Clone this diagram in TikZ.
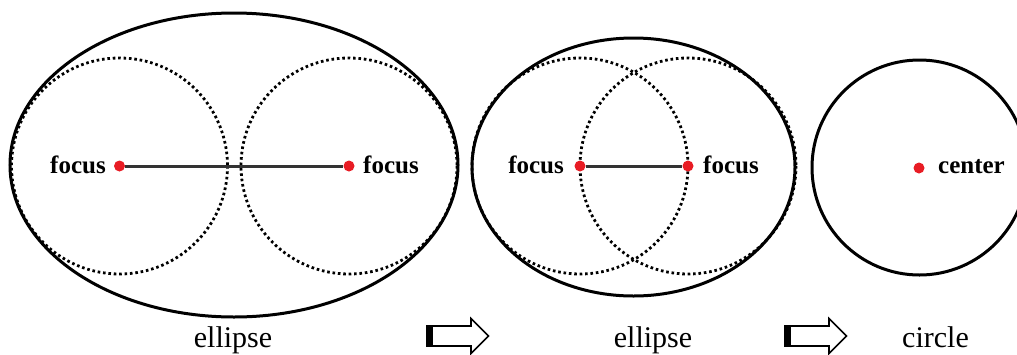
\documentclass[tikz,border=0pt]{standalone}
\usepackage{fontspec}
\setmainfont{Liberation Serif}
\definecolor{fred}{RGB}{232,28,36}
\begin{document}
\begin{tikzpicture}[x=1pt,y=-1pt,
  outline/.style={line width=3pt},
  dots/.style={line width=2.8pt, dash pattern=on 2.6pt off 2.8pt},
  fdot/.style={circle, fill=fred, inner sep=0pt, minimum size=11pt},
  link/.style={line width=3pt, draw=black!80},
  lbl/.style={font=\bfseries\fontsize{25}{25}\selectfont, inner sep=0pt},
  caption/.style={font=\fontsize{30}{30}\selectfont, inner sep=0pt, anchor=base},
  blockarrow/.style={line width=1.6pt, line join=miter}]
\useasboundingbox (0,0) rectangle (1017,354);

% left ellipse
\draw[outline] (234,165) ellipse [x radius=224, y radius=152];
\draw[dots] (119.5,166) circle [radius=108];
\draw[dots] (349,166) circle [radius=108];
\node[fdot] (f1) at (119.5,166) {};
\node[fdot] (f2) at (349,166) {};
\draw[link] (f1) -- (f2);
\node[lbl, anchor=base east] (t1) at (106,173) {focus};
\node[lbl, anchor=base west] (t2) at (363,173) {focus};
\node[caption] (c1) at (233,347) {ellipse};

% middle ellipse
\draw[outline] (633.5,167) ellipse [x radius=161.5, y radius=129];
\draw[dots] (580,166) circle [radius=108];
\draw[dots] (688,166) circle [radius=108];
\node[fdot] (f3) at (580,166) {};
\node[fdot] (f4) at (688,166) {};
\draw[link] (f3) -- (f4);
\node[lbl, anchor=base east] (t3) at (564,173) {focus};
\node[lbl, anchor=base west] (t4) at (703,173) {focus};
\node[caption] (c2) at (653,347) {ellipse};

% circle
\draw[outline] (919.5,167.5) circle [radius=107.5];
\node[fdot] (f5) at (919,168) {};
\node[lbl, anchor=base west] (t5) at (938,173) {center};
\node[caption] (c3) at (935.5,347) {circle};

% block arrows
\draw[blockarrow] (427,326) -- (471,326) -- (471,318.5) -- (488.5,336) -- (471,353.5) -- (471,346) -- (427,346) -- cycle;
\fill (427,326) rectangle (432.5,346);
\draw[blockarrow] (785,326) -- (829,326) -- (829,318.5) -- (846.5,336) -- (829,353.5) -- (829,346) -- (785,346) -- cycle;
\fill (785,326) rectangle (790.5,346);
\end{tikzpicture}
\end{document}
